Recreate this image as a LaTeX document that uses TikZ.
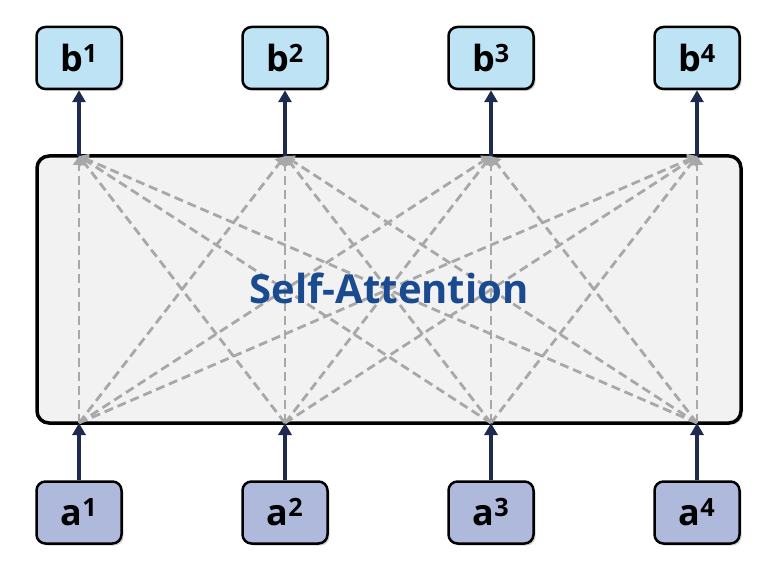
\documentclass[tikz,border=0pt]{standalone}
\usepackage{fontspec}
\setmainfont{Open Sans}
\usetikzlibrary{arrows.meta,shadows}

\definecolor{outfill}{HTML}{BDE3F5}
\definecolor{infill}{HTML}{AFB9DC}
\definecolor{navy}{HTML}{1F2A4F}
\definecolor{boxgray}{HTML}{F2F2F2}
\definecolor{linkgray}{HTML}{A8A8A8}
\definecolor{titleblue}{HTML}{1A4A8F}

\begin{document}
\begin{tikzpicture}[x=1pt, y=-1pt,
                    token/.style = {shape=rectangle, draw, line width=2.5pt, rounded corners=9pt,
                                    minimum width=85pt, minimum height=62pt, inner sep=0pt,
                                    font=\fontsize{36}{40}\selectfont\bfseries,
                                    drop shadow={shadow xshift=2pt, shadow yshift=-2pt, opacity=0.35}},
                    sabox/.style = {shape=rectangle, draw, line width=3.5pt, rounded corners=12pt,
                                    fill=boxgray, minimum width=704pt, minimum height=267pt,
                                    drop shadow={shadow xshift=2pt, shadow yshift=-2pt, opacity=0.35}},
                    feed/.style = {navy, line width=4pt, -{Triangle[width=13pt,length=12pt]}},
                    link/.style = {linkgray, line width=2.8pt, dash pattern=on 9pt off 5pt,
                                   -{Triangle[width=12pt,length=9pt]}}]

  \useasboundingbox (0,0) rectangle (777,572);

  % attention block
  \node[sabox] (sa) at (389,289.5) {};

  % inputs and outputs
  \foreach \i/\x in {1/79, 2/285, 3/491, 4/697} {
    \node[token, fill=infill] (a\i) at (\x,512.5) {a\textsuperscript{\i}};
    \node[token, fill=outfill] (b\i) at (\x,58) {b\textsuperscript{\i}};
    \coordinate (in\i) at (\x,423);
    \coordinate (out\i) at (\x,156);
  }

  % every input to every output
  \foreach \i in {1,...,4}
    \foreach \j in {1,...,4}
      \draw[link] (in\i) -- (out\j);

  \node[font=\fontsize{40}{44}\selectfont\bfseries, text=titleblue] (title) at (389,288) {Self-Attention};

  \foreach \i in {1,...,4} {
    \draw[feed] (a\i) -- (in\i);
    \draw[feed] (out\i) -- (b\i);
  }
\end{tikzpicture}
\end{document}
